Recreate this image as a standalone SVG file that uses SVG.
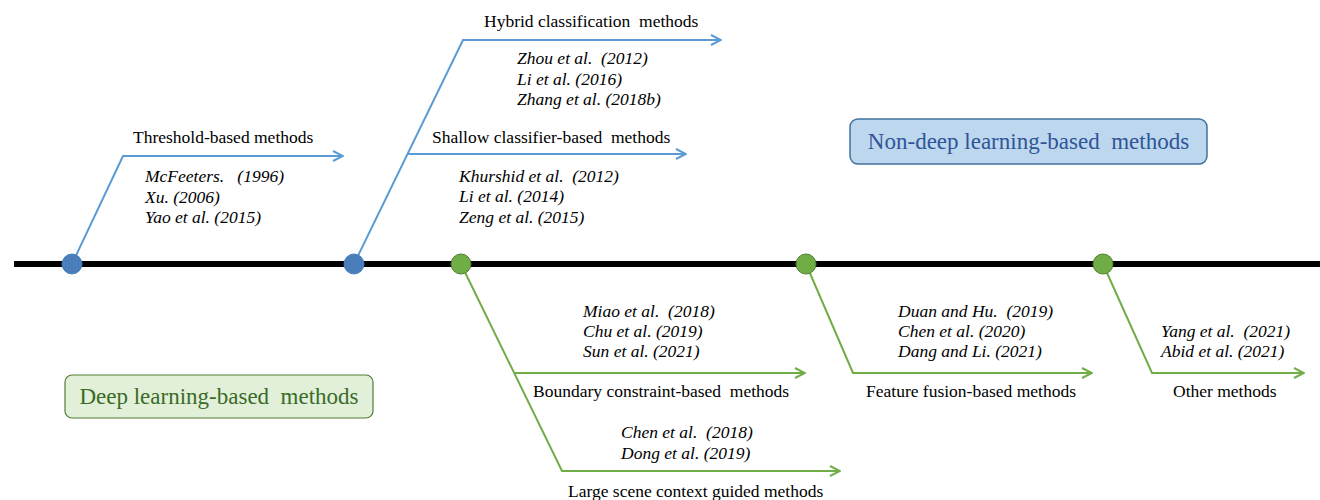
<svg xmlns="http://www.w3.org/2000/svg" width="1320" height="500" viewBox="0 0 1320 500">
<style>
text{white-space:pre}
.lbl{font-family:"Liberation Serif","Times New Roman",serif;font-size:17.5px;fill:#000}
.ref{font-family:"Liberation Serif","Times New Roman",serif;font-size:17.5px;font-style:italic;fill:#000}
.blue{fill:none;stroke:#5B9BD5;stroke-width:2}
.green{fill:none;stroke:#70AD47;stroke-width:2}
.bdot{fill:#4A7EBB;stroke:#4F81BD;stroke-width:1}
.gdot{fill:#70AD47;stroke:#507E32;stroke-width:1}
.box{font-family:"Liberation Serif","Times New Roman",serif;font-size:23px}
</style>
<defs>
<marker id="ab" viewBox="0 0 12 12" refX="11" refY="6" markerWidth="12" markerHeight="12" markerUnits="userSpaceOnUse" orient="auto">
<polyline points="1,1 11,6 1,11" fill="none" stroke="#5B9BD5" stroke-width="2"/>
</marker>
<marker id="ag" viewBox="0 0 12 12" refX="11" refY="6" markerWidth="12" markerHeight="12" markerUnits="userSpaceOnUse" orient="auto">
<polyline points="1,1 11,6 1,11" fill="none" stroke="#70AD47" stroke-width="2"/>
</marker>
</defs>
<rect width="1320" height="500" fill="#fff"/>
<g id="connectors">
<line x1="14" y1="264" x2="1320" y2="264" stroke="#000" stroke-width="6"/>
<polyline class="blue" points="72,264 123,156 343,156" marker-end="url(#ab)"/>
<polyline class="blue" points="354,264 463,40 721,40" marker-end="url(#ab)"/>
<polyline class="blue" points="407,154 686,154" marker-end="url(#ab)"/>
<polyline class="green" points="461,264 562,471 840,471" marker-end="url(#ag)"/>
<polyline class="green" points="514,373 805,373" marker-end="url(#ag)"/>
<polyline class="green" points="806,264 853,373 1092,373" marker-end="url(#ag)"/>
<polyline class="green" points="1103,264 1152,373 1304,373" marker-end="url(#ag)"/>
</g>
<g id="n1">
<circle class="bdot" cx="72" cy="264" r="10"/>
<text class="lbl" x="133" y="143">Threshold-based methods</text>
<text class="ref" x="145" y="182">McFeeters.   (1996)</text>
<text class="ref" x="145" y="203">Xu. (2006)</text>
<text class="ref" x="145" y="223">Yao et al. (2015)</text>
</g>
<g id="n2">
<circle class="bdot" cx="354" cy="264" r="10"/>
<text class="lbl" x="484" y="27">Hybrid classification  methods</text>
<text class="ref" x="517" y="64">Zhou et al.  (2012)</text>
<text class="ref" x="517" y="85">Li et al. (2016)</text>
<text class="ref" x="517" y="105">Zhang et al. (2018b)</text>
<text class="lbl" x="432" y="143">Shallow classifier-based  methods</text>
<text class="ref" x="459" y="182">Khurshid et al.  (2012)</text>
<text class="ref" x="459" y="202">Li et al. (2014)</text>
<text class="ref" x="459" y="223">Zeng et al. (2015)</text>
</g>
<g id="n3">
<circle class="gdot" cx="461" cy="264" r="10"/>
<text class="ref" x="583" y="317">Miao et al.  (2018)</text>
<text class="ref" x="583" y="337">Chu et al. (2019)</text>
<text class="ref" x="583" y="357">Sun et al. (2021)</text>
<text class="lbl" x="533" y="397">Boundary constraint-based  methods</text>
<text class="ref" x="621" y="438">Chen et al.  (2018)</text>
<text class="ref" x="621" y="459">Dong et al. (2019)</text>
<text class="lbl" x="568" y="497">Large scene context guided methods</text>
</g>
<g id="n4">
<circle class="gdot" cx="806" cy="264" r="10"/>
<text class="ref" x="898" y="317">Duan and Hu.  (2019)</text>
<text class="ref" x="898" y="337">Chen et al. (2020)</text>
<text class="ref" x="898" y="357">Dang and Li. (2021)</text>
<text class="lbl" x="866" y="397">Feature fusion-based methods</text>
</g>
<g id="n5">
<circle class="gdot" cx="1103" cy="264" r="10"/>
<text class="ref" x="1161" y="337">Yang et al.  (2021)</text>
<text class="ref" x="1161" y="357">Abid et al. (2021)</text>
<text class="lbl" x="1173" y="397">Other methods</text>
</g>
<g id="nondeep">
<rect x="850" y="119" width="357" height="45" rx="8" fill="#BDD7EE" stroke="#41719C" stroke-width="1.5"/>
<text class="box" x="1028.5" y="149" text-anchor="middle" fill="#2F5597">Non-deep learning-based  methods</text>
</g>
<g id="deep">
<rect x="65" y="375" width="308" height="43" rx="7" fill="#E2F0D9" stroke="#507E32" stroke-width="1.2"/>
<text class="box" x="219" y="404" text-anchor="middle" fill="#3A6B27">Deep learning-based  methods</text>
</g>
</svg>
